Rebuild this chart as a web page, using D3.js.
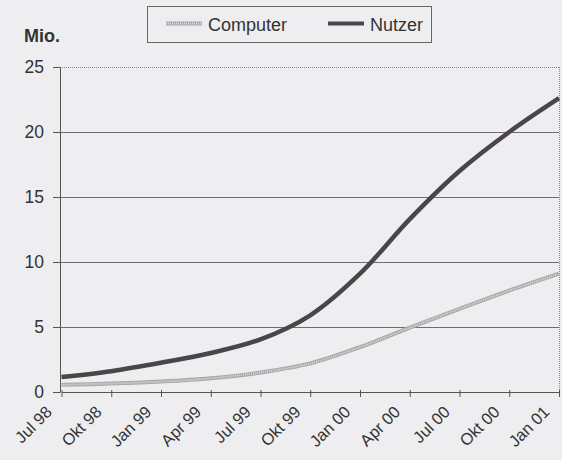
<!DOCTYPE html>
<html>
<head>
<meta charset="utf-8">
<script src="https://cdn.jsdelivr.net/npm/d3@7"></script>
<style>
  body { margin: 0; background: #eeeef0; }
  svg { display: block; font-family: "Liberation Sans", Arial, sans-serif; }
</style>
</head>
<body>
<script>
// quarterly values, millions
var quarters = ["Jul 98", "Okt 98", "Jan 99", "Apr 99", "Jul 99", "Okt 99",
                "Jan 00", "Apr 00", "Jul 00", "Okt 00", "Jan 01"];
var computer = [0.55, 0.65, 0.8, 1.05, 1.5, 2.2, 3.45, 4.95, 6.4, 7.8, 9.1];
var nutzer   = [1.15, 1.6, 2.25, 3.0, 4.05, 5.9, 9.1, 13.3, 17.0, 20.0, 22.6];
var yTicks   = [0, 5, 10, 15, 20, 25];

var width = 562, height = 460;
var plotLeft = 60, plotRight = 559, plotTop = 67, plotBottom = 392;

var svg = d3.select("body").append("svg")
    .attr("width", width)
    .attr("height", height);

var x = d3.scalePoint().domain(quarters).range([plotLeft + 1.5, plotRight]);
var y = d3.scaleLinear().domain([0, 25]).range([plotBottom, plotTop]);

// grid lines
svg.append("g")
  .selectAll("line")
  .data(yTicks.filter(function(d) { return d > 0; }))
  .enter().append("line")
    .attr("x1", plotLeft).attr("x2", plotRight)
    .attr("y1", function(d) { return y(d) + 0.5; })
    .attr("y2", function(d) { return y(d) + 0.5; })
    .attr("stroke", function(d) { return d == 25 ? "#8a8a8a" : "#6e6e70"; })
    .attr("stroke-width", 1)
    .attr("stroke-dasharray", function(d) { return d == 25 ? "1,1" : null; });

// right border (dotted)
svg.append("line")
    .attr("x1", plotRight + 0.5).attr("x2", plotRight + 0.5)
    .attr("y1", plotTop).attr("y2", plotBottom)
    .attr("stroke", "#8a8a8a")
    .attr("stroke-dasharray", "1,1");

// y axis
var yAxis = svg.append("g")
    .attr("transform", "translate(" + plotLeft + ",0)")
    .call(d3.axisLeft(y).tickValues(yTicks).tickSize(7).tickPadding(9));
yAxis.select(".domain").attr("stroke", "#555");
yAxis.selectAll(".tick line").attr("stroke", "#555");
yAxis.selectAll("text")
    .attr("font-size", 17.5)
    .attr("fill", "#333")
    .style("font-family", "Liberation Sans, Arial, sans-serif");

// x axis
var xAxis = svg.append("g")
    .attr("transform", "translate(0," + plotBottom + ")")
    .call(d3.axisBottom(x).tickSize(5).tickSizeOuter(0));
xAxis.select(".domain").attr("stroke", "#555");
xAxis.selectAll(".tick line").attr("stroke", "#555").attr("y1", -2);
xAxis.selectAll("text")
    .attr("font-size", 16.5)
    .attr("fill", "#333")
    .style("font-family", "Liberation Sans, Arial, sans-serif")
    .style("text-anchor", "end")
    .attr("x", 0).attr("y", 0).attr("dy", 0)
    .attr("transform", "translate(-9,21) rotate(-45)");

var line = d3.line()
    .x(function(d, i) { return x(quarters[i]); })
    .y(function(d) { return y(d); })
    .curve(d3.curveCatmullRom.alpha(0.5));

// computer line: light hatched look
svg.append("path")
    .datum(computer)
    .attr("d", line)
    .attr("fill", "none")
    .attr("stroke", "#a8a8aa")
    .attr("stroke-width", 4);
svg.append("path")
    .datum(computer)
    .attr("d", line)
    .attr("fill", "none")
    .attr("stroke", "#dadadc")
    .attr("stroke-width", 2)
    .attr("stroke-dasharray", "1,1");

// nutzer line
svg.append("path")
    .datum(nutzer)
    .attr("d", line)
    .attr("fill", "none")
    .attr("stroke", "#4b4449")
    .attr("stroke-width", 4.5)
    .attr("stroke-linejoin", "round");

// unit label
svg.append("text")
    .attr("x", 24).attr("y", 42)
    .attr("font-size", 18)
    .attr("font-weight", "bold")
    .attr("fill", "#333")
    .text("Mio.");

// legend
var legend = svg.append("g");
legend.append("rect")
    .attr("x", 147.5).attr("y", 6.5)
    .attr("width", 284).attr("height", 36)
    .attr("fill", "none")
    .attr("stroke", "#666");

var legendItems = [
  { name: "Computer", x: 166, color: "#a8a8aa" },
  { name: "Nutzer",   x: 328, color: "#4b4449" }
];
legendItems.forEach(function(d) {
  legend.append("line")
      .attr("x1", d.x).attr("x2", d.x + 36)
      .attr("y1", 23.5).attr("y2", 23.5)
      .attr("stroke", d.color)
      .attr("stroke-width", 4);
  if (d.name == "Computer") {
    legend.append("line")
        .attr("x1", d.x).attr("x2", d.x + 36)
        .attr("y1", 23.5).attr("y2", 23.5)
        .attr("stroke", "#dadadc")
        .attr("stroke-width", 2)
        .attr("stroke-dasharray", "1,1");
  }
  legend.append("text")
      .attr("x", d.x + 42).attr("y", 30.5)
      .attr("font-size", 18)
      .attr("fill", "#333")
      .text(d.name);
});
</script>
</body>
</html>
